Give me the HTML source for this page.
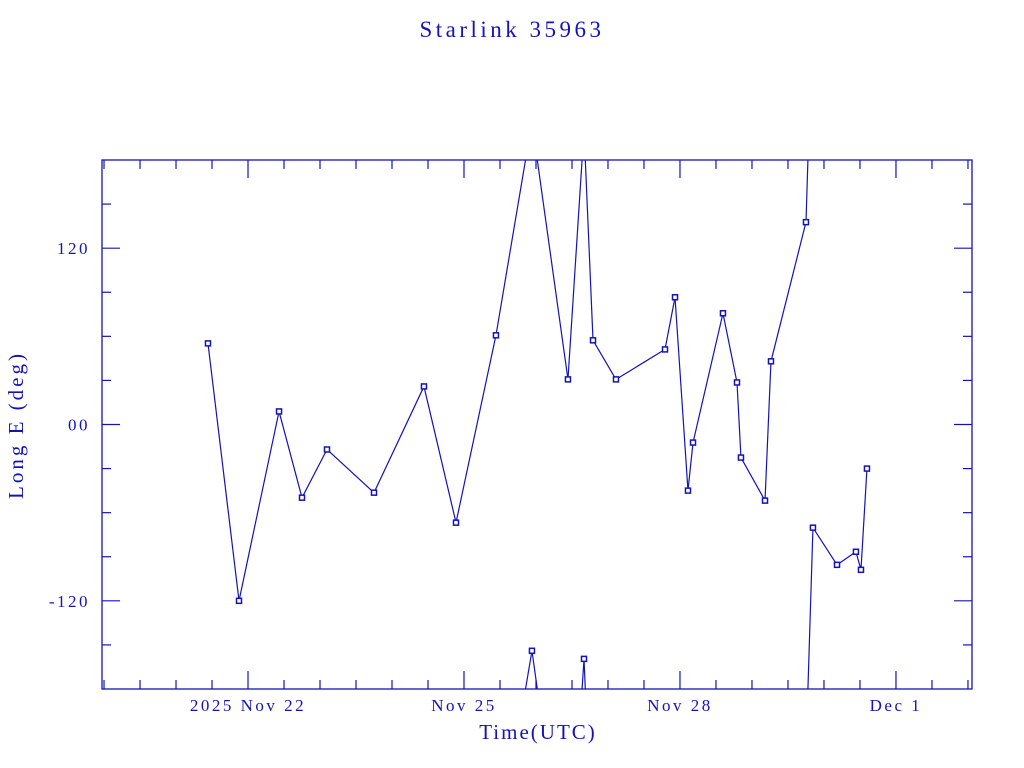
<!DOCTYPE html>
<html><head><meta charset="utf-8"><style>
html,body{margin:0;padding:0;background:#fff;width:1024px;height:768px;overflow:hidden}
svg{display:block;overflow:hidden}
text{font-family:"Liberation Serif",serif;fill:#1414b4}
</style></head><body>
<svg id="chart" width="1024" height="768" viewBox="0 0 1024 768">
<text x="512" y="37" text-anchor="middle" font-size="23" letter-spacing="3.5">Starlink 35963</text>
<text x="538" y="739" text-anchor="middle" font-size="21" letter-spacing="2">Time(UTC)</text>
<text transform="translate(23,425) rotate(-90)" text-anchor="middle" font-size="21" letter-spacing="3">Long E (deg)</text>
<defs><clipPath id="clip"><rect x="102" y="160" width="870" height="529"/></clipPath></defs>
<g id="axes"></g>
<g id="series" clip-path="url(#clip)"></g>
</svg>
<script>
// days since 2025 Nov 20 00:00 UTC
const days = [1.444,1.875,2.431,2.75,3.097,3.75,4.444,4.889,5.444,5.944,6.444,6.667,6.792,7.111,7.792,7.931,8.111,8.181,8.597,8.792,8.847,9.181,9.264,9.75,9.847,10.181,10.444,10.514,10.597];
const longs = [55.2,-120,8.9,-49.8,-17,-46.4,25.9,-66.8,60.7,-154,30.7,-159.5,57.3,30.7,51.1,86.6,-45,-12.3,75.7,28.6,-22.5,-51.8,43,137.7,-70.2,-95.5,-86.6,-98.9,-30];
const yTickValues = [-120,0,120];
const yTickLabels = ["-120","00","120"];
const xTickDays = [2,5,8,11];
const xTickLabels = ["2025 Nov 22","Nov 25","Nov 28","Dec  1"];

const C = "#1414b4";
const NS = "http://www.w3.org/2000/svg";
const X0=102, X1=972, Y0=160, Y1=689;
const D0=-0.028, D1=12.056;
const xs = d => X0 + (d-D0)/(D1-D0)*(X1-X0);
const ys = v => Y1 - (v+180)/360*(Y1-Y0);
function mk(tag, attrs, parent){const e=document.createElementNS(NS,tag);for(const k in attrs)e.setAttribute(k,attrs[k]);parent.appendChild(e);return e;}
const axes=document.getElementById('axes');
const frame=mk('rect',{x:X0,y:Y0,width:X1-X0,height:Y1-Y0,fill:'none',stroke:C,'stroke-width':1.3},axes);


for(let v=-150; v<=150; v+=30){
  const major = v%120===0;
  const L = major?18:9, y=ys(v);
  const t1=mk('line',{x1:X0,y1:y,x2:X0+L,y2:y,stroke:C,'stroke-width':1.2},axes);
  
  
  const t2=mk('line',{x1:X1,y1:y,x2:X1-L,y2:y,stroke:C,'stroke-width':1.2},axes);
  
  
}
yTickValues.forEach((v,i)=>{
  const t=mk('text',{x:X0-12,y:ys(v)+6,'text-anchor':'end','font-size':17,'letter-spacing':2.5},axes);
  t.textContent=yTickLabels[i];
  
  
});
for(let h=0; h<=24; h++){
  const d=h/2; const x=xs(d);
  if(x<X0+1||x>X1-1) continue;
  const major = xTickDays.includes(d);
  const L = major?18:9;
  const t1=mk('line',{x1:x,y1:Y1,x2:x,y2:Y1-L,stroke:C,'stroke-width':1.2},axes);
  
  
  const t2=mk('line',{x1:x,y1:Y0,x2:x,y2:Y0+L,stroke:C,'stroke-width':1.2},axes);
  
  
}
xTickDays.forEach((d,i)=>{
  const t=mk('text',{x:xs(d),y:711,'text-anchor':'middle','font-size':17,'letter-spacing':2.5,'xml:space':'preserve'},axes);
  t.textContent=xTickLabels[i];
  
  
});
const ser=document.getElementById('series');
for(let i=0;i<days.length-1;i++){
  let a=longs[i], b=longs[i+1];
  let diff=b-a; if(diff>180) diff-=360; if(diff<-180) diff+=360;
  const bu=a+diff;
  [-360,0,360].forEach(s=>{
    const l=mk('line',{x1:xs(days[i]),y1:ys(a+s),x2:xs(days[i+1]),y2:ys(bu+s),stroke:C,'stroke-width':1.2},ser);
    
    
  });
}
days.forEach((d,i)=>{
  const r=mk('rect',{x:xs(d)-2.5,y:ys(longs[i])-2.5,width:5,height:5,fill:'#fff',stroke:C,'stroke-width':1.5},ser);
  
  
});
</script>
</body></html>
